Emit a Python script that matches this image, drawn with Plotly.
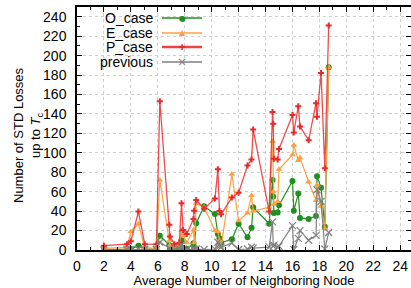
import plotly.graph_objects as go

# ---- data ----
x_nodes = [2.0, 3.7, 4.0, 4.56, 5.03, 5.9, 6.15, 6.86, 6.9, 7.24, 7.6, 7.76, 7.88, 8.15,
           8.65, 8.7, 8.85, 9.44, 10.24, 10.46, 10.58, 10.7, 11.5, 12.0, 12.66, 12.96,
           13.08, 14.27, 14.52, 14.57, 14.62, 14.9, 15.0, 16.0, 16.1, 16.43, 16.56, 17.2,
           17.75, 17.82, 18.12, 18.4, 18.69]

o_case = [0.5, 1, 1, 4.5, 1, 1, 14.7, 5, 1, 1, 3.4, 10, 2, 1,
          7, 2, 27.5, 45, 37, 16.5, 12, 7.5, 11, 27, 13, 23,
          44, 27, 72, 55, 38, 38.5, 46, 71, 40.5, 58, 33, 32,
          35, 76, 64, 24, 188]

e_case = [1.7, 2.7, 19, 27, 2.5, 1.7, 72, 9.6, 4.5, 3.4, 5, 20, 15, 7.5,
          20.6, 7.5, 48, 44, 20, 19, 10, 3, 78, 30, 38, 56,
          40, 44, 112, 60, 47, 50, 83, 98, 108, 92, 95, 70,
          51, 67, 45, 22, 188]

p_case = [4.5, 6, 9, 39.5, 6, 6, 153, 26, 14, 6, 7.5, 48, 20.6, 16.5,
          32, 40.5, 51.5, 42.5, 53, 83, 40, 36.7, 54, 59, 87, 93,
          124, 39.5, 142, 130, 94, 93, 104, 139, 121, 148, 127, 113,
          151, 137, 182, 84, 231]

previous = [0, 0.5, 0.5, 1, 0.5, 0.5, 8, 2, 0.5, 0.5, 1, 5, 1, 0.5,
            1, 0.5, 1, 0.5, 1, 8, 4, 3, 7, 0.5, 1, 3,
            2, 3, 29, 4, 5, 3, 4, 25, 0.5, 12, 20, 10,
            15, 62, 50, 1, 18]

series_names = ["O_case", "E_case", "P_case", "previous"]
x_ticks = list(range(0, 25, 2))
y_ticks = list(range(0, 241, 20))

# ---- styling ----
FONT = "Liberation Sans, Arial, sans-serif"
styles = {
    "O_case": dict(line=dict(color="#1f8f1f", width=1.2),
                   marker=dict(symbol="circle", size=6, color="#1f8f1f")),
    "E_case": dict(line=dict(color="#ffa040", width=1.2),
                   marker=dict(symbol="triangle-up", size=6, color="#ffa040")),
    "P_case": dict(line=dict(color="rgba(235,45,45,0.85)", width=1.3),
                   marker=dict(symbol="cross", size=5, color="#e82a2a")),
    "previous": dict(line=dict(color="#808080", width=1.2),
                     marker=dict(symbol="x-thin-open", size=7,
                                 line=dict(color="#808080", width=1.2), color="#808080")),
}

fig = go.Figure()
for name, ys in zip(series_names, [o_case, e_case, p_case, previous]):
    fig.add_trace(go.Scatter(x=x_nodes, y=ys, mode="lines+markers", name=name,
                             showlegend=False, cliponaxis=True, **styles[name]))

# ---- manual legend (text right aligned, sample on the right) ----
leg_colors = ["#1f8f1f", "#ffa040", "#eb4444", "#808080"]
leg_syms = ["●", "▲", "✚", "×"]
leg_y = [18, 33, 47, 62]  # pixel rows
L, PW, PH, T = 77, 334, 243, 7
shapes = []
annotations = []
for name, col, sym, py in zip(series_names, leg_colors, leg_syms, leg_y):
    yp = 1 - (py - T) / PH
    annotations.append(dict(text=name, xref="paper", yref="paper", x=(155 - L) / PW, y=yp,
                            xanchor="right", yanchor="middle", showarrow=False,
                            font=dict(family=FONT, size=14, color="black")))
    shapes.append(dict(type="line", xref="paper", yref="paper",
                       x0=(162 - L) / PW, x1=(202 - L) / PW, y0=yp, y1=yp,
                       line=dict(color=col, width=1.5 if name != "P_case" else 2.5)))
    annotations.append(dict(text=sym, xref="paper", yref="paper", x=(182 - L) / PW, y=yp,
                            xanchor="center", yanchor="middle", showarrow=False,
                            font=dict(family="DejaVu Sans", size=8 if sym != "×" else 12,
                                      color=col if name != "P_case" else "#e82a2a")))

# y-axis title
annotations.append(dict(text="Number of STD Losses<br>up to <i>T</i><sub>c</sub>",
                        xref="paper", yref="paper", x=-(L - 28) / PW, y=1 - (135 - T) / PH,
                        xanchor="center", yanchor="middle", showarrow=False, textangle=-90,
                        font=dict(family=FONT, size=13, color="black")))

fig.update_layout(
    width=411, height=288,
    margin=dict(l=L, r=0, t=T, b=38),
    paper_bgcolor="white", plot_bgcolor="white",
    font=dict(family=FONT, size=14, color="black"),
    shapes=shapes, annotations=annotations,
    showlegend=False,
)
fig.update_xaxes(
    range=[0, 24.8], tickvals=x_ticks, ticktext=[str(t) for t in x_ticks],
    showline=True, linecolor="black", linewidth=1.5, mirror="ticks",
    ticks="inside", ticklen=5, tickcolor="black",
    minor=dict(ticks="inside", dtick=1, ticklen=3, tickcolor="black", showgrid=False),
    showgrid=True, gridcolor="#cfcfcf", griddash="dot", gridwidth=1,
    zeroline=False, tickfont=dict(size=14), ticklabelstandoff=2, automargin=False,
    title=dict(text="Average Number of Neighboring Node", font=dict(size=13), standoff=2),
)
fig.update_yaxes(
    range=[0, 250], tickvals=y_ticks, ticktext=[str(t) for t in y_ticks],
    showline=True, linecolor="black", linewidth=1.5, mirror="ticks",
    ticks="inside", ticklen=5, tickcolor="black",
    minor=dict(ticks="inside", dtick=10, ticklen=3, tickcolor="black", showgrid=False),
    showgrid=True, gridcolor="#cfcfcf", griddash="dot", gridwidth=1,
    zeroline=False, tickfont=dict(size=14), ticklabelstandoff=6, automargin=False,
)

fig.write_html("out.html", config={"displayModeBar": False},
               post_script="document.body.style.margin='0px';document.body.style.overflow='hidden';")
